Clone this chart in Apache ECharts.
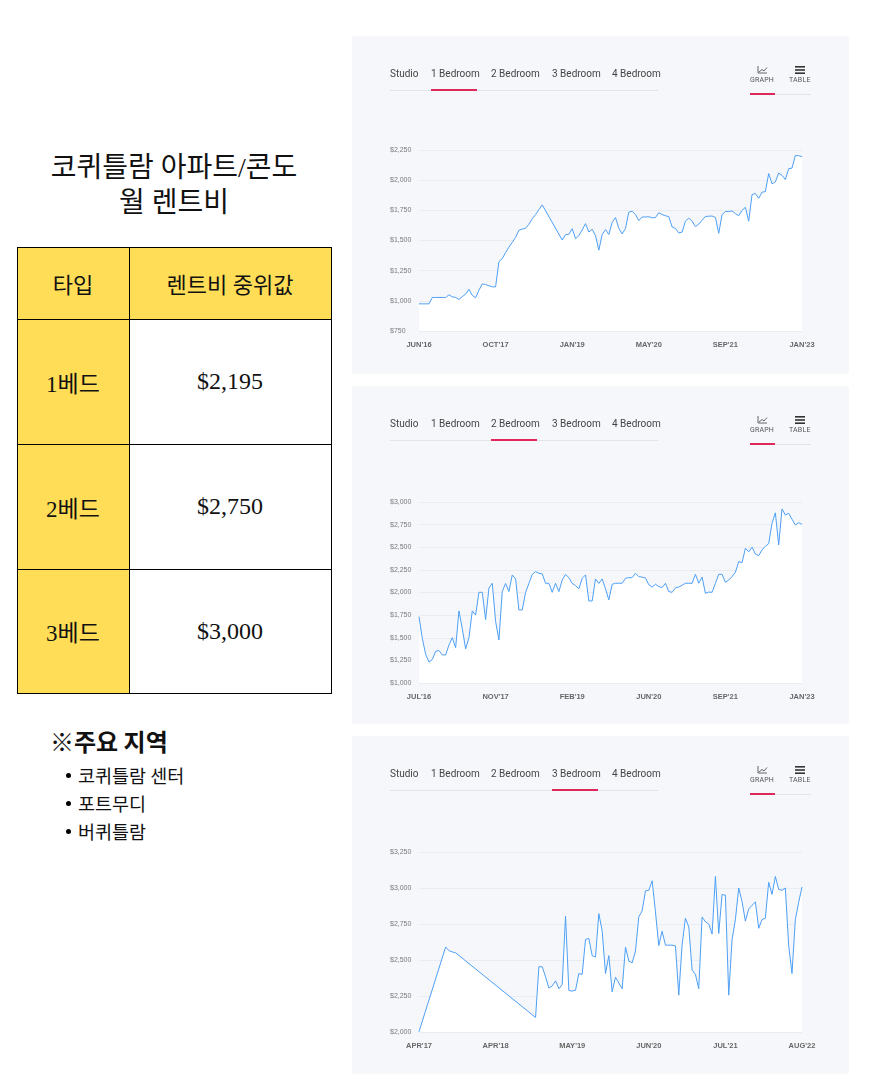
<!DOCTYPE html>
<html><head><meta charset="utf-8">
<script src="https://cdn.jsdelivr.net/npm/echarts@6/dist/echarts.min.js"></script>
<style>
body{margin:0;background:#fff;width:875px;height:1081px;position:relative;overflow:hidden;font-family:"Noto Sans CJK KR",sans-serif;color:#111;}
.title{position:absolute;left:17px;width:314px;top:150px;text-align:center;font-family:"Liberation Serif","Noto Sans CJK KR",serif;font-size:28px;line-height:35px;}
.cell{position:absolute;display:flex;align-items:center;justify-content:center;font-family:"Liberation Serif","Noto Sans CJK KR",serif;box-sizing:border-box;}
.hl{position:absolute;background:#000;}
.note{position:absolute;left:50px;top:726px;font-size:24px;font-weight:bold;line-height:30px;}
.areas{position:absolute;left:78px;top:761px;margin:0;padding:0;list-style:none;font-size:18.5px;line-height:28px;}
.areas li{position:relative;}
.areas li:before{content:"";position:absolute;left:-12px;top:12px;width:5px;height:5px;border-radius:50%;background:#000;}
.card{position:absolute;left:353px;width:495px;height:336px;background:#f5f7fa;box-shadow:0 0 1px rgba(0,0,0,0.18);}
.chart{position:absolute;left:0;top:0;width:495px;height:336px;}
.tab{position:absolute;top:31px;font-family:Roboto,sans-serif;font-size:10px;line-height:12px;color:#444;white-space:nowrap;}
.tabline{position:absolute;left:37px;top:53px;width:268px;height:1px;background:#e2e4e7;}
.tabact{position:absolute;top:52px;height:2px;background:#e0275c;}
.vt{position:absolute;top:38px;font-family:Roboto,sans-serif;font-size:7px;line-height:10px;color:#555;letter-spacing:0.2px;}
.vline{position:absolute;left:397px;top:57px;width:61px;height:1px;background:#e2e4e7;}
.vact{position:absolute;left:397px;top:56px;width:25px;height:2px;background:#e0275c;}
</style>
</head><body>
<div class="title">코퀴틀람 아파트/콘도<br>월 렌트비</div>
<div id="table"></div>
<div class="note">※주요 지역</div>
<ul class="areas" id="areas"></ul>
<div class="card" style="top:37px"><div class="chart" id="c1"></div></div>
<div class="card" style="top:387px"><div class="chart" id="c2"></div></div>
<div class="card" style="top:737px"><div class="chart" id="c3"></div></div>
<script>
// ---- data ----
const tableHeaders = ['타입', '렌트비 중위값'];
const tableTypes = ['1베드', '2베드', '3베드'];
const tableMedians = ['$2,195', '$2,750', '$3,000'];
const keyAreas = ['코퀴틀람 센터', '포트무디', '버퀴틀람'];
const tabNames = ['Studio', '1 Bedroom', '2 Bedroom', '3 Bedroom', '4 Bedroom'];

const ticks1 = ["JUN'16", "OCT'17", "JAN'19", "MAY'20", "SEP'21", "JAN'23"];
const rent1Bed = [975,975,975,975,1028,1028,1028,1028,1028,1050,
1033,1028,1011,1035,1055,1095,1045,1025,1088,1140,
1135,1125,1116,1116,1324,1350,1400,1445,1485,1525,
1585,1595,1600,1635,1680,1715,1755,1795,null,null,
null,null,null,1504,1548,1551,1598,1515,1540,1587,
1640,1570,1593,1540,1420,1550,1590,1550,1650,1690,
1600,1554,1600,1735,1742,1715,1665,1695,1695,1697,
1688,1690,1730,1715,1705,1698,1612,1600,1562,1570,
1660,1685,1660,1615,1635,1668,1699,1701,1703,1690,
1560,1715,1740,1740,1745,1722,1705,1750,1775,1660,
1880,1890,1850,1900,1905,2055,1970,1985,2059,2040,
2005,2095,2100,2203,2203,2195];

const ticks2 = ["JUL'16", "NOV'17", "FEB'19", "JUN'20", "SEP'21", "JAN'23"];
const rent2Bed = [1733,1490,1317,1230,1260,1350,1358,1310,1310,1420,
1500,1390,1796,1600,1376,1500,1796,1750,2002,2002,
1700,2050,2102,1680,1476,2010,2100,2010,2194,2150,
1807,1807,2000,2100,2200,2230,2212,2205,2102,2102,
2002,2102,2010,2138,2200,2164,2100,2076,2040,2157,
2194,1906,1906,2150,2100,2150,2040,1918,2090,2102,
2102,2102,2157,2164,2164,2212,2175,2170,2160,2085,
2060,2091,2065,2054,2102,2010,2002,2050,2060,2080,
2102,2102,2102,2201,2102,2170,1991,2005,2002,2100,
2201,2201,2113,2138,2175,2223,2341,2330,2488,2450,
2500,2425,2407,2470,2510,2540,2764,2880,2525,2923,
2856,2875,2810,2746,2770,2753];

const ticks3 = ["APR'17", "APR'18", "MAY'19", "JUN'20", "JUL'21", "AUG'22"];
const rent3Bed = [2002,null,null,null,null,null,null,null,2590,2565,
2556,2550,null,null,null,null,null,null,null,null,
null,null,null,null,null,null,null,null,null,null,
null,null,null,null,null,2101,2453,2453,2383,2305,
2320,2355,2300,2330,2804,2288,2284,2290,2406,2400,
2642,2650,2530,2520,2822,2700,2406,2530,2279,2380,
2340,2300,2590,2492,2480,2561,2800,2840,2980,2984,
3050,2834,2600,2700,2603,2603,2603,2598,2256,2603,
2790,2730,2430,2400,2300,2799,2765,2750,2680,3080,
2684,2954,2950,2256,2640,2780,3000,2905,2770,2854,
2880,2903,2720,2780,2790,3040,2955,3080,2990,2984,
3000,2600,2406,2780,2900,3007];

// ---- table ----
(function(){
  const t = document.getElementById('table');
  const L = 17, M = 129, R = 331;
  const rows = [247, 319, 444, 569, 693];
  let h = '';
  h += `<div class="cell" style="left:${L}px;top:${rows[0]}px;width:${M-L}px;height:${rows[4]-rows[0]}px;background:#ffdd57"></div>`;
  h += `<div class="cell" style="left:${M}px;top:${rows[0]}px;width:${R-M}px;height:${rows[1]-rows[0]}px;background:#ffdd57"></div>`;
  h += `<div class="cell" style="left:${L}px;top:${rows[0]}px;width:${M-L}px;height:${rows[1]-rows[0]}px;font-size:22px">${tableHeaders[0]}</div>`;
  h += `<div class="cell" style="left:${M}px;top:${rows[0]}px;width:${R-M}px;height:${rows[1]-rows[0]}px;font-size:22px">${tableHeaders[1]}</div>`;
  tableTypes.forEach((ty, i) => {
    h += `<div class="cell" style="left:${L}px;top:${rows[i+1]}px;width:${M-L}px;height:${rows[i+2]-rows[i+1]}px;font-size:23px">${ty}</div>`;
    h += `<div class="cell" style="left:${M}px;top:${rows[i+1]}px;width:${R-M}px;height:${rows[i+2]-rows[i+1]}px;font-size:24px">${tableMedians[i]}</div>`;
  });
  rows.forEach(y => { h += `<div class="hl" style="left:${L}px;top:${y}px;width:${R-L+1}px;height:1px"></div>`; });
  [L, M, R].forEach(x => { h += `<div class="hl" style="left:${x}px;top:${rows[0]}px;width:1px;height:${rows[4]-rows[0]}px"></div>`; });
  t.innerHTML = h;
  document.getElementById('areas').innerHTML = keyAreas.map(a => `<li>${a}</li>`).join('');
})();

// ---- card header (tabs) ----
const tabLefts = [37, 78, 138, 199, 259];
const tabWidths = [27, 46, 46, 46, 46];
function addHeader(card, active) {
  let h = '';
  tabNames.forEach((n, i) => { h += `<div class="tab" style="left:${tabLefts[i]}px">${n}</div>`; });
  h += `<div class="tabline"></div>`;
  h += `<div class="tabact" style="left:${tabLefts[active]}px;width:${tabWidths[active]}px"></div>`;
  h += `<svg style="position:absolute;left:404px;top:29px" width="11" height="8" viewBox="0 0 11 8"><polyline points="1,0 1,7 10,7" fill="none" stroke="#555" stroke-width="0.9"/><polyline points="2,6 5,3.5 7,5 10,1.5" fill="none" stroke="#555" stroke-width="0.9"/></svg>`;
  h += `<svg style="position:absolute;left:442px;top:29px" width="10" height="8" viewBox="0 0 10 8"><rect x="0" y="0" width="10" height="1.6" fill="#333"/><rect x="0" y="3.2" width="10" height="1.6" fill="#333"/><rect x="0" y="6.4" width="10" height="1.6" fill="#333"/></svg>`;
  h += `<div class="vt" style="left:397px">GRAPH</div>`;
  h += `<div class="vt" style="left:436px">TABLE</div>`;
  h += `<div class="vline"></div><div class="vact"></div>`;
  card.insertAdjacentHTML('beforeend', h);
}

function makeChart(id, values, ticks, min, max, top, bottom, active) {
  const el = document.getElementById(id);
  addHeader(el.parentNode, active);
  const step = (values.length - 1) / (ticks.length - 1);
  const cats = values.map((_, i) => i);
  const chart = echarts.init(el, null, {renderer: 'canvas'});
  chart.setOption({
    animation: false,
    backgroundColor: 'transparent',
    grid: {left: 66, right: 46, top: top, bottom: bottom, containLabel: false},
    xAxis: {
      type: 'category', data: cats, boundaryGap: false,
      axisLine: {show: false}, axisTick: {show: false},
      axisLabel: {
        interval: (i) => i % step === 0,
        formatter: (v, i) => (i % step === 0 ? ticks[i / step] : ''),
        color: '#666', fontSize: 7.5, fontWeight: 'bold', fontFamily: 'Liberation Sans, Arial, sans-serif', margin: 10
      },
      splitLine: {show: false}
    },
    yAxis: {
      type: 'value', min: min, max: max, interval: 250,
      axisLine: {show: false}, axisTick: {show: false},
      axisLabel: {
        formatter: v => '$' + v.toLocaleString('en-US'),
        color: '#7a7a7a', fontSize: 7, fontFamily: 'Liberation Sans, Arial, sans-serif',
        align: 'left', margin: 29
      },
      splitLine: {lineStyle: {color: '#e9edf2', width: 1}}
    },
    series: [{
      type: 'line', data: values, showSymbol: false, connectNulls: true,
      lineStyle: {color: '#4d9ff5', width: 1},
      areaStyle: {color: '#ffffff', opacity: 1, origin: 'start'},
      itemStyle: {color: '#4d9ff5'}
    }]
  });
}

makeChart('c1', rent1Bed, ticks1, 750, 2250, 113, 42, 1);
makeChart('c2', rent2Bed, ticks2, 1000, 3000, 115, 40, 2);
makeChart('c3', rent3Bed, ticks3, 2000, 3250, 115, 41, 3);
</script>
</body></html>
